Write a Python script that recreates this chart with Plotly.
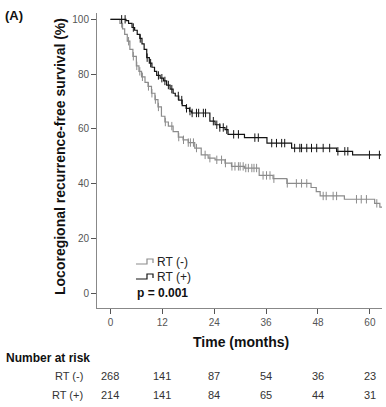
import plotly.graph_objects as go

# ---------------- data ----------------
# Kaplan-Meier step points (time in months, survival %)
rt_neg_t = [0, 2.2, 2.8, 3.3, 3.9, 4.5, 5.2, 6.0, 6.6, 7.2, 8.0, 8.7, 9.5, 10.3, 11.0, 11.8,
            12.6, 13.4, 14.5, 15.7, 16.8, 18.0, 19.5, 21.0, 22.6, 24.2, 26.5, 28.0, 31.0,
            34.4, 37.6, 40.8, 46.4, 47.6, 48.5, 54.1, 61.1, 62.3, 62.9]
rt_neg_s = [100, 98.5, 96.5, 94.5, 92, 89, 86.5, 83, 81, 79, 77, 75.5, 73, 70.7, 68, 64.6,
            62.5, 61, 59, 57, 56, 55, 53, 50.5, 49.3, 48.7, 47.5, 46.3, 45.7,
            43.0, 41.8, 40.1, 38.6, 37.1, 35.5, 34.3, 32.8, 31.4, 31.4]

rt_pos_t = [0, 3.6, 4.2, 5.0, 5.6, 6.2, 6.8, 7.3, 7.8, 8.4, 9.0, 9.6, 10.2, 10.7, 11.5, 12.3,
            13.0, 13.8, 14.5, 15.0, 15.8, 16.6, 17.5, 18.3, 18.8, 23.0, 24.2, 25.3, 26.5,
            27.2, 31.0, 36.2, 41.9, 52.3, 56.0, 62.6]
rt_pos_s = [100, 99.5, 98.5, 97, 96, 94.5, 93, 91, 89, 86, 84, 82.5, 81, 79.5, 78.5, 77.5,
            76, 74.5, 73, 72, 70.5, 68.5, 67.5, 66.5, 65.8, 62.8, 61.5, 60.5, 59.7,
            58.0, 56.8, 54.8, 53.0, 51.8, 50.5, 50.5]

# censored observations (months)
rt_neg_cens = [2.6, 4.2, 5.3, 6.1, 6.8, 7.4, 8.8, 9.6, 10.4, 11.1, 12.7, 14.2, 15.8, 16.9, 18.0,
               18.5, 19.2, 19.9, 21.9, 23.0, 24.6, 25.7, 26.6, 28.1, 28.8, 29.6, 30.0, 30.7,
               31.3, 31.9, 32.7, 33.2, 33.8, 35.3, 36.1, 36.9, 37.8, 40.9, 43.0, 44.2, 45.4,
               49.2, 49.9, 51.5, 52.3, 56.9, 58.0, 59.2, 61.6]
rt_pos_cens = [2.6, 3.4, 5.3, 6.9, 8.5, 9.3, 11.1, 11.9, 12.6, 13.4, 14.2, 15.7, 16.5, 17.6,
               18.4, 18.9, 19.9, 20.4, 21.5, 22.0, 23.8, 24.6, 25.3, 26.1, 26.9, 28.5, 29.6,
               33.4, 34.2, 37.3, 38.4, 39.6, 40.3, 42.6, 43.8, 44.2, 45.4, 46.5, 47.7, 49.2,
               50.7, 52.6, 54.2, 54.9, 59.9, 62.2]

tick_vals = [0, 12, 24, 36, 48, 60]
y_ticks = [0, 20, 40, 60, 80, 100]
risk_neg = [268, 141, 87, 54, 36, 23]
risk_pos = [214, 141, 84, 65, 44, 31]
group_labels = ["RT (-)", "RT (+)"]

# ---------------- helpers ----------------
W, H = 386, 407
L, R, T, B = 97, 4, 13, 99
PW, PH = W - L - R, H - T - B


def px_x(p):
    return (p - L) / PW


def px_y(p):
    return (H - B - p) / PH


def step_at(ts, ss, t):
    v = ss[0]
    for ti, si in zip(ts, ss):
        if ti <= t:
            v = si
    return v


FONT = "Arial, Liberation Sans, sans-serif"
GRAY = "#8c8c8c"
BLACK = "#141414"

fig = go.Figure()
for ts, ss, cens, col, name in [(rt_neg_t, rt_neg_s, rt_neg_cens, GRAY, group_labels[0]),
                                (rt_pos_t, rt_pos_s, rt_pos_cens, BLACK, group_labels[1])]:
    fig.add_trace(go.Scatter(x=ts, y=ss, mode="lines", line=dict(color=col, width=1.2, shape="hv"),
                             name=name, showlegend=False))
    fig.add_trace(go.Scatter(x=cens, y=[step_at(ts, ss, c) for c in cens], mode="markers",
                             marker=dict(symbol="line-ns", size=6, line=dict(color=col, width=1)),
                             showlegend=False, hoverinfo="skip"))

fig.update_layout(
    width=W, height=H, margin=dict(l=L, r=R, t=T, b=B),
    paper_bgcolor="white", plot_bgcolor="white",
    font=dict(family=FONT, color="#333"),
    xaxis=dict(range=[-3.1, 62.8], tickvals=tick_vals, ticks="outside", ticklen=5,
               tickcolor="#555", showline=True, linecolor="#888", linewidth=1,
               showgrid=False, zeroline=False, tickfont=dict(size=10, color="#555")),
    yaxis=dict(range=[-5.4, 102.3], tickvals=y_ticks, ticks="outside", ticklen=5,
               tickcolor="#555", showline=True, linecolor="#888", linewidth=1,
               showgrid=False, zeroline=False, tickfont=dict(size=10, color="#555")),
)

ann = []
ann.append(dict(text="<b>(A)</b>", x=px_x(3), y=px_y(15), xanchor="left", yanchor="middle",
                font=dict(size=13, color="#111")))
ann.append(dict(text="<b>Locoregional recurrence-free survival (%)</b>", x=px_x(60), y=px_y(157),
                textangle=-90, xanchor="center", yanchor="middle", font=dict(size=14, color="#111")))
ann.append(dict(text="<b>Time (months)</b>", x=px_x(241), y=px_y(342), xanchor="center",
                yanchor="middle", font=dict(size=14, color="#111")))
ann.append(dict(text="<b>Number at risk</b>", x=px_x(4), y=px_y(358), xanchor="left",
                yanchor="middle", font=dict(size=12, color="#111")))
for lab, vals, ypx in [(group_labels[0], risk_neg, 376), (group_labels[1], risk_pos, 395)]:
    ann.append(dict(text=lab, x=px_x(85), y=px_y(ypx), xanchor="right", yanchor="middle",
                    font=dict(size=11, color="#333")))
    for tv, v in zip(tick_vals, vals):
        ann.append(dict(text=str(v), x=tv, xref="x", y=px_y(ypx), xanchor="center",
                        yanchor="middle", font=dict(size=11, color="#333")))
# legend
for lab, col, ypx in [(group_labels[0], GRAY, 262), (group_labels[1], BLACK, 277)]:
    ann.append(dict(text=lab, x=px_x(155), y=px_y(ypx), xanchor="left", yanchor="middle",
                    font=dict(size=12, color="#222")))
ann.append(dict(text="<b>p = 0.001</b>", x=px_x(135), y=px_y(293), xanchor="left",
                yanchor="middle", font=dict(size=12, color="#111")))
for a in ann:
    a.setdefault("xref", "paper")
    a["yref"] = "paper"
    a["showarrow"] = False
fig.update_layout(annotations=ann)

shapes = []
for col, ypx in [(GRAY, 262), (BLACK, 277)]:
    pts = [(136, ypx + 2), (147, ypx + 2), (147, ypx - 3), (153, ypx - 3), (153, ypx + 1)]
    path = "M " + " L ".join(f"{px_x(a):.4f},{px_y(b):.4f}" for a, b in pts)
    shapes.append(dict(type="path", path=path, xref="paper", yref="paper",
                       line=dict(color=col, width=1.2)))
fig.update_layout(shapes=shapes)

fig.write_html("out.html", config={"displayModeBar": False},
               post_script="document.body.style.margin='0';document.body.style.overflow='hidden';")
